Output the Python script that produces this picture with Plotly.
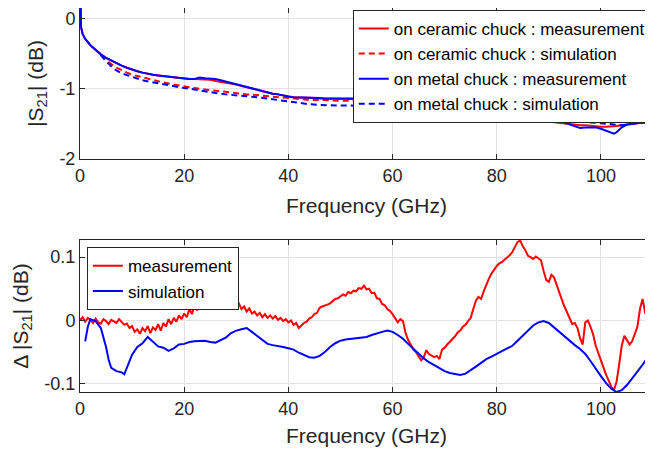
import plotly.graph_objects as go

# ---------------- data: top panel |S21| (dB) ----------------
f_meas = [0, 0.2, 0.5, 1, 2, 3, 4, 5, 6, 7, 8, 9, 10, 11, 12, 13, 14, 15, 16, 17, 18, 19, 20,
          21, 22, 23, 24, 25, 26, 27, 28, 29, 30, 31, 32, 33, 34, 35, 36, 37, 38, 39, 40,
          41, 42, 43, 44, 45, 46, 47, 48, 49, 50, 51, 52, 53, 54, 55, 56, 57, 58, 59, 60,
          61, 62, 63, 64, 65, 66, 67, 68, 69, 70, 71, 72, 73, 74, 75, 76, 77, 78, 79, 80,
          81, 82, 83, 84, 85, 86, 87, 88, 89, 90, 91, 92, 93, 94, 95, 96, 97, 98, 99, 100,
          101, 102, 102.5, 103, 104, 105, 106, 107, 108, 109, 110]
metal_meas = [0.6, -0.12, -0.22, -0.29, -0.38, -0.45, -0.51, -0.56, -0.60, -0.64, -0.67, -0.70, -0.73,
              -0.75, -0.77, -0.79, -0.80, -0.81, -0.82, -0.83, -0.84, -0.84, -0.85,
              -0.86, -0.86, -0.84, -0.85, -0.85, -0.86, -0.88, -0.90, -0.91, -0.93, -0.95, -0.97,
              -0.99, -1.01, -1.03, -1.05, -1.07, -1.08, -1.10, -1.11,
              -1.12, -1.12, -1.13, -1.13, -1.13, -1.13, -1.14, -1.14, -1.14, -1.13, -1.13, -1.13,
              -1.13, -1.14, -1.14, -1.15, -1.16, -1.18, -1.21, -1.23,
              -1.26, -1.29, -1.31, -1.34, -1.37, -1.39, -1.40, -1.41, -1.41, -1.40, -1.39, -1.39,
              -1.39, -1.38, -1.37, -1.37, -1.36, -1.35, -1.33, -1.33,
              -1.32, -1.31, -1.31, -1.31, -1.32, -1.33, -1.34, -1.36, -1.38, -1.40, -1.43, -1.45,
              -1.48, -1.51, -1.54, -1.56, -1.55, -1.55, -1.55, -1.57,
              -1.60, -1.63, -1.64, -1.62, -1.55, -1.51, -1.50, -1.49, -1.48, -1.49, -1.49]
ceramic_meas = [0.6, -0.12, -0.22, -0.29, -0.38, -0.45, -0.51, -0.56, -0.60, -0.64, -0.67, -0.70, -0.73,
                -0.75, -0.77, -0.79, -0.80, -0.81, -0.82, -0.83, -0.84, -0.85, -0.85,
                -0.86, -0.86, -0.86, -0.87, -0.87, -0.89, -0.90, -0.91, -0.92, -0.94, -0.96, -0.98,
                -1.00, -1.02, -1.04, -1.06, -1.07, -1.08, -1.10, -1.11,
                -1.12, -1.12, -1.13, -1.13, -1.13, -1.14, -1.14, -1.14, -1.14, -1.14, -1.14, -1.14,
                -1.14, -1.15, -1.15, -1.16, -1.17, -1.18, -1.20, -1.22,
                -1.25, -1.27, -1.29, -1.31, -1.32, -1.33, -1.34, -1.35, -1.35, -1.36, -1.36, -1.37,
                -1.37, -1.38, -1.38, -1.39, -1.40, -1.41, -1.41, -1.42,
                -1.42, -1.43, -1.43, -1.43, -1.44, -1.44, -1.45, -1.46, -1.46, -1.47, -1.48, -1.49,
                -1.50, -1.51, -1.51, -1.52, -1.52, -1.53, -1.53, -1.54,
                -1.54, -1.54, -1.54, -1.53, -1.52, -1.51, -1.50, -1.49, -1.48, -1.47, -1.46]

f_sim = [4, 5, 6, 7, 8, 9, 10, 12, 14, 16, 18, 20, 22, 24, 26, 28, 30, 32, 34, 36, 38, 40,
         42, 44, 46, 48, 50, 52, 54, 56, 58, 60, 62, 64, 66, 68, 70, 72, 74, 76, 78, 80,
         82, 84, 86, 88, 90, 92, 94, 96, 98, 100, 102, 104, 106, 108, 110]
ceramic_sim = [-0.52, -0.59, -0.65, -0.70, -0.74, -0.77, -0.80, -0.84, -0.88, -0.91, -0.94, -0.97,
               -0.99, -1.01, -1.03, -1.04, -1.06, -1.08, -1.09, -1.11, -1.12, -1.13,
               -1.15, -1.16, -1.16, -1.17, -1.17, -1.17, -1.18, -1.19, -1.20, -1.22,
               -1.24, -1.26, -1.28, -1.29, -1.30, -1.31, -1.31, -1.32, -1.33, -1.34,
               -1.34, -1.35, -1.35, -1.36, -1.36, -1.37, -1.38, -1.39, -1.39, -1.40,
               -1.40, -1.40, -1.40, -1.40, -1.40]
metal_sim = [-0.52, -0.61, -0.68, -0.74, -0.78, -0.80, -0.83, -0.88, -0.91, -0.94, -0.97, -0.99,
             -1.01, -1.04, -1.06, -1.08, -1.09, -1.10, -1.12, -1.14, -1.16, -1.18,
             -1.21, -1.22, -1.23, -1.24, -1.24, -1.24, -1.24, -1.24, -1.24, -1.25,
             -1.26, -1.28, -1.31, -1.33, -1.34, -1.35, -1.35, -1.35, -1.35, -1.35,
             -1.36, -1.36, -1.37, -1.39, -1.41, -1.43, -1.45, -1.47, -1.48, -1.49,
             -1.51, -1.52, -1.50, -1.47, -1.45]

# ---------------- data: bottom panel delta |S21| (dB) ----------------
f_dmeas = [i * 0.5 for i in range(221)]
delta_meas = [0.000, 0.005, -0.002, 0.004, 0.001, -0.004, 0.003, -0.003, -0.005, 0.002,
              -0.001, -0.006, 0.001, -0.002, -0.004, 0.002, -0.003, -0.007, -0.005, -0.012,
              -0.009, -0.018, -0.014, -0.021, -0.012, -0.017, -0.009, -0.020, -0.011, -0.015,
              -0.006, -0.016, -0.004, -0.010, 0.002, -0.006, 0.004, -0.002, 0.008, 0.002,
              0.011, 0.005, 0.018, 0.010, 0.024, 0.016, 0.028, 0.022, 0.026, 0.033,
              0.027, 0.036, 0.031, 0.041, 0.034, 0.038, 0.030, 0.036, 0.026, 0.031,
              0.023, 0.027, 0.018, 0.022, 0.014, 0.019, 0.011, 0.014, 0.008, 0.012,
              0.005, 0.010, 0.004, 0.008, 0.003, 0.007, 0.001, 0.004, -0.001, 0.002,
              -0.003, 0.000, -0.007, -0.004, -0.012, -0.008, -0.004, -0.002, 0.003, 0.005,
              0.010, 0.012, 0.020, 0.022, 0.023, 0.025, 0.027, 0.030, 0.034, 0.035,
              0.038, 0.041, 0.039, 0.045, 0.043, 0.047, 0.046, 0.051, 0.050, 0.055,
              0.049, 0.050, 0.043, 0.044, 0.035, 0.034, 0.026, 0.024, 0.018, 0.015,
              0.010, 0.003, -0.003, 0.002, -0.001, -0.020, -0.031, -0.038, -0.046, -0.050,
              -0.056, -0.063, -0.058, -0.047, -0.053, -0.055, -0.058, -0.056, -0.061, -0.046,
              -0.043, -0.038, -0.034, -0.030, -0.025, -0.019, -0.016, -0.010, -0.007, -0.001,
              0.004, 0.018, 0.031, 0.037, 0.034, 0.046, 0.057, 0.066, 0.074, 0.081,
              0.086, 0.090, 0.092, 0.096, 0.099, 0.103, 0.108, 0.116, 0.124, 0.126,
              0.117, 0.111, 0.102, 0.100, 0.097, 0.101, 0.098, 0.095, 0.078, 0.064,
              0.061, 0.072, 0.068, 0.056, 0.042, 0.033, 0.022, 0.013, 0.003, -0.006,
              -0.004, -0.012, -0.028, -0.038, -0.003, 0.000, -0.010, -0.022, -0.040, -0.052,
              -0.064, -0.074, -0.086, -0.095, -0.105, -0.110, -0.097, -0.070, -0.040, -0.024,
              -0.030, -0.038, -0.033, -0.020, -0.010, 0.018, 0.034, 0.012, 0.003, -0.012,
              -0.022]

f_dsim = [1, 1.5, 2, 3, 4, 5, 5.5, 6, 7, 8, 8.5, 9, 10, 11, 12, 13, 14, 15, 16, 17, 18, 19, 20,
          21, 22, 23, 24, 25, 26, 27, 28, 29, 30, 31, 32, 33, 34, 35, 36, 37, 38, 39, 40,
          41, 42, 43, 44, 45, 46, 47, 48, 49, 50, 51, 52, 53, 54, 55, 56, 57, 58, 59, 60,
          61, 62, 63, 64, 65, 66, 67, 68, 69, 70, 71, 72, 73, 74, 75, 76, 77, 78, 79, 80,
          81, 82, 83, 84, 85, 86, 87, 88, 89, 90, 91, 92, 93, 94, 95, 96, 97, 98, 99, 100,
          101, 102, 103, 104, 105, 106, 107, 108, 109, 110]
delta_sim = [-0.033, -0.010, 0.002, -0.001, -0.012, -0.042, -0.062, -0.075, -0.080, -0.082, -0.085,
             -0.075, -0.054, -0.042, -0.036, -0.026, -0.033, -0.041, -0.043, -0.048, -0.044, -0.038, -0.037,
             -0.034, -0.033, -0.032, -0.032, -0.034, -0.035, -0.031, -0.027, -0.020, -0.016, -0.014, -0.012,
             -0.018, -0.024, -0.031, -0.037, -0.039, -0.040, -0.042, -0.044,
             -0.046, -0.051, -0.055, -0.058, -0.059, -0.056, -0.050, -0.042, -0.036, -0.032, -0.030, -0.029,
             -0.028, -0.027, -0.026, -0.023, -0.020, -0.018, -0.016, -0.018,
             -0.023, -0.029, -0.037, -0.045, -0.053, -0.060, -0.066, -0.071, -0.076, -0.080, -0.083, -0.085,
             -0.086, -0.084, -0.079, -0.073, -0.067, -0.061, -0.057, -0.053,
             -0.049, -0.045, -0.040, -0.032, -0.024, -0.015, -0.008, -0.003, -0.001, -0.004, -0.011, -0.019,
             -0.026, -0.032, -0.039, -0.045, -0.053, -0.064, -0.077, -0.088,
             -0.099, -0.108, -0.113, -0.110, -0.102, -0.092, -0.081, -0.070, -0.058, -0.046]

# ---------------- ticks ----------------
x_ticks = [0, 20, 40, 60, 80, 100]
x_ticktext = ["0", "20", "40", "60", "80", "100"]
y1_ticks = [0, -1, -2]
y1_ticktext = ["0", "-1", "-2"]
y2_ticks = [0.1, 0, -0.1]
y2_ticktext = ["0.1", "0", "-0.1"]

RED = "#ff0000"
BLUE = "#0000ff"
DARK = "#262626"
GRID = "#e3e3e3"
FONT = "Liberation Sans, Arial, sans-serif"
DASH = "6px,4px"

fig = go.Figure()

fig.add_trace(go.Scatter(x=f_meas, y=ceramic_meas, mode="lines", name="on ceramic chuck : measurement",
                         line=dict(color=RED, width=2), xaxis="x", yaxis="y", legend="legend"))
fig.add_trace(go.Scatter(x=f_sim, y=ceramic_sim, mode="lines", name="on ceramic chuck : simulation",
                         line=dict(color=RED, width=2, dash=DASH), xaxis="x", yaxis="y", legend="legend"))
fig.add_trace(go.Scatter(x=f_meas, y=metal_meas, mode="lines", name="on metal chuck : measurement",
                         line=dict(color=BLUE, width=2), xaxis="x", yaxis="y", legend="legend"))
fig.add_trace(go.Scatter(x=f_sim, y=metal_sim, mode="lines", name="on metal chuck : simulation",
                         line=dict(color=BLUE, width=2, dash=DASH), xaxis="x", yaxis="y", legend="legend"))

fig.add_trace(go.Scatter(x=f_dmeas, y=delta_meas, mode="lines", name="measurement",
                         line=dict(color=RED, width=2), xaxis="x2", yaxis="y2", legend="legend2"))
fig.add_trace(go.Scatter(x=f_dsim, y=delta_sim, mode="lines", name="simulation",
                         line=dict(color=BLUE, width=2), xaxis="x2", yaxis="y2", legend="legend2"))

axis_common = dict(showline=True, linecolor=DARK, linewidth=1, mirror="allticks", automargin=False,
                   ticks="inside", ticklen=5, tickcolor=DARK, showgrid=True, gridcolor=GRID,
                   gridwidth=1, zeroline=False, tickfont=dict(family=FONT, size=18, color=DARK))
TITLE_FONT = dict(family=FONT, size=21, color=DARK)

# The page body has an 8px margin, so the figure is sized/placed to compensate.
fig.update_layout(
    width=645, height=446,
    margin=dict(l=72, r=0, t=0, b=62, autoexpand=False),
    paper_bgcolor="white", plot_bgcolor="white",
    font=dict(family=FONT, color=DARK),
    xaxis=dict(domain=[0, 1], range=[0, 110], anchor="y", tickvals=x_ticks, ticktext=x_ticktext,
               title=dict(text="Frequency (GHz)", font=TITLE_FONT, standoff=13),
               **axis_common),
    yaxis=dict(domain=[0.6068, 1], range=[-2, 0.15], anchor="x", tickvals=y1_ticks, ticktext=y1_ticktext,
               title=dict(text="|S<sub>21</sub>| (dB)", font=TITLE_FONT, standoff=10),
               **axis_common),
    xaxis2=dict(domain=[0, 1], range=[0, 110], anchor="y2", tickvals=x_ticks, ticktext=x_ticktext,
                title=dict(text="Frequency (GHz)", font=TITLE_FONT, standoff=10),
                **axis_common),
    yaxis2=dict(domain=[0, 0.3958], range=[-0.113, 0.127], anchor="x2", tickvals=y2_ticks, ticktext=y2_ticktext,
                title=dict(text="Δ |S<sub>21</sub>| (dB)", font=TITLE_FONT, standoff=10),
                **axis_common),
    legend=dict(x=0.476, y=0.995, xanchor="left", yanchor="top", bgcolor="white",
                bordercolor=DARK, borderwidth=1, font=dict(family=FONT, size=17, color="black"),
                itemwidth=30, tracegroupgap=0),
    legend2=dict(x=0.012, y=0.377, xanchor="left", yanchor="top", bgcolor="white",
                 bordercolor=DARK, borderwidth=1, font=dict(family=FONT, size=17, color="black"),
                 itemwidth=30, tracegroupgap=0),
    showlegend=True,
)

fig.write_html("out.html")
